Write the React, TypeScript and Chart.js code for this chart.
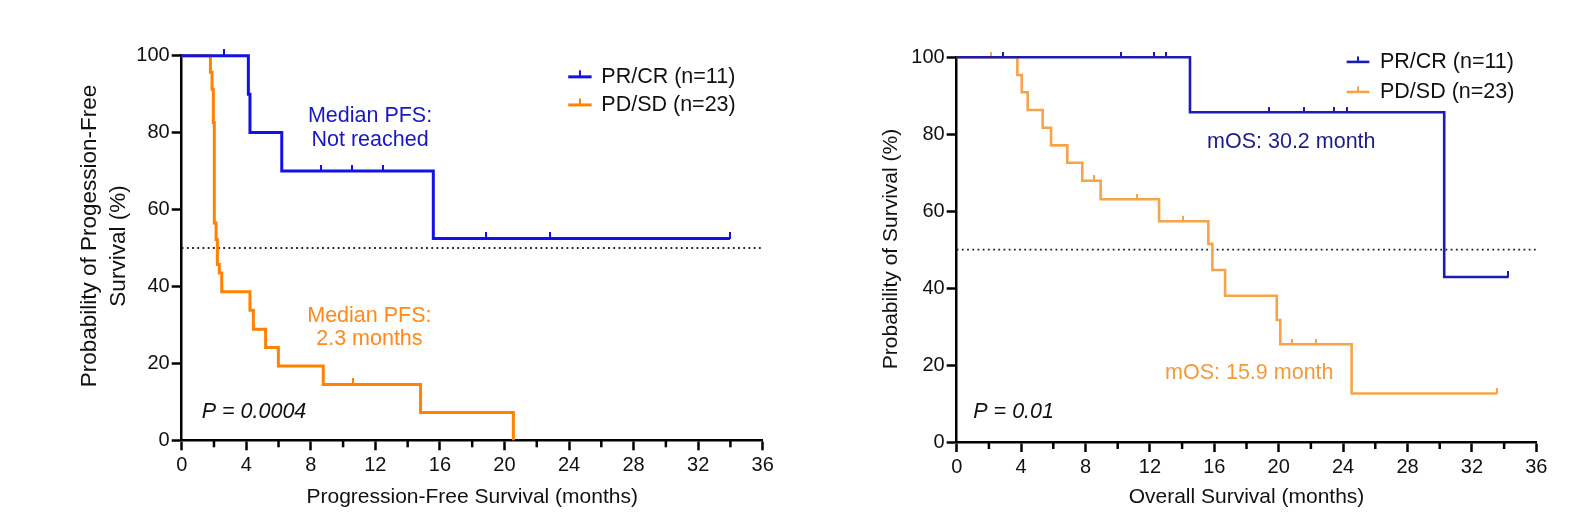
import { useEffect, useRef } from 'react';
import { Chart, registerables } from 'chart.js';

Chart.register(...registerables);

// ---------- Data ----------
const seriesLabels = ['PR/CR (n=11)', 'PD/SD (n=23)'];
const xTickValues = [0, 4, 8, 12, 16, 20, 24, 28, 32, 36];
const xMinorTicks = [2, 6, 10, 14, 18, 22, 26, 30, 34];
const yTickValues = [0, 20, 40, 60, 80, 100];
const medianLine = [50, 50];
const medianLineX = [0, 36];

// Progression-free survival, PR/CR
const pfsRespTimes = [0, 4.13, 4.23, 6.2, 15.59, 33.97];
const pfsRespSurv = [100, 90, 80, 70, 52.5, 52.5];
const pfsRespCensorTimes = [2.64, 8.63, 10.53, 12.49, 18.83, 22.82, 33.97];
const pfsRespCensorSurv = [100, 70, 70, 70, 52.5, 52.5, 52.5];

// Progression-free survival, PD/SD
const pfsNonTimes = [0, 1.78, 1.88, 1.96, 2.02, 2.13, 2.21, 2.33, 2.48, 4.23, 4.44, 5.2, 5.99, 8.77, 14.8, 20.55];
const pfsNonSurv = [100, 95.7, 91.3, 82.6, 56.5, 52.2, 45.7, 43.5, 38.6, 33.8, 28.9, 24.1, 19.3, 14.5, 7.2, 0];
const pfsNonCensorTimes = [10.63];
const pfsNonCensorSurv = [14.5];

// Overall survival, PR/CR
const osRespTimes = [0, 14.49, 30.28, 34.26];
const osRespSurv = [100, 85.7, 42.9, 42.9];
const osRespCensorTimes = [2.86, 10.19, 12.25, 13.0, 19.42, 21.59, 23.43, 24.22, 34.26];
const osRespCensorSurv = [100, 100, 100, 100, 85.7, 85.7, 85.7, 85.7, 42.9];

// Overall survival, PD/SD
const osNonTimes = [0, 3.77, 4.04, 4.41, 5.34, 5.86, 6.87, 7.8, 8.94, 12.57, 15.63, 15.88, 16.67, 19.88, 20.1, 24.53, 33.54];
const osNonSurv = [100, 95.4, 90.9, 86.3, 81.7, 77.1, 72.6, 67.9, 63.1, 57.4, 51.5, 44.7, 38.0, 31.7, 25.4, 12.6, 12.6];
const osNonCensorTimes = [2.11, 8.53, 11.18, 14.08, 20.85, 22.3, 33.54];
const osNonCensorSurv = [100, 67.9, 63.1, 57.4, 25.4, 25.4, 12.6];

// ---------- Helpers ----------
const FONT = '"Liberation Sans", Arial, Helvetica, sans-serif';

const toPts = (xs: number[], ys: number[]) => xs.map((x, i) => ({ x, y: ys[i] }));

function makeTick(color: string, w: number, h: number) {
  const c = document.createElement('canvas');
  c.width = Math.ceil(w);
  c.height = Math.ceil(h * 2);
  const g = c.getContext('2d')!;
  g.fillStyle = color;
  g.fillRect(0, 0, c.width, Math.ceil(h));
  return c;
}

type TextItem = { x: number; y: number; text: string; color: string; align: CanvasTextAlign; italic?: boolean };
type TitleLine = { text: string; size: number; cx: number; cy: number };

type Spec = {
  colors: [string, string];
  lineWidth: number;
  tickH: number;
  series: { times: number[]; surv: number[]; cTimes: number[]; cSurv: number[] }[];
  yTitle: TitleLine[];
  xTitle: string;
  area: { left: number; top: number; right: number; bottom: number };
  texts: TextItem[];
  legend: { x1: number; x2: number; tx: number; rows: number[] };
};

const overlayPlugin = {
  id: 'overlay',
  afterDraw(chart: any, _args: any, opts: any) {
    const { ctx, scales } = chart;
    const x = scales.x;
    const y = scales.y;
    ctx.save();
    // minor ticks
    ctx.strokeStyle = '#000';
    ctx.lineWidth = 2.5;
    for (const v of xMinorTicks) {
      const px = x.getPixelForValue(v);
      ctx.beginPath();
      ctx.moveTo(px, chart.chartArea.bottom);
      ctx.lineTo(px, chart.chartArea.bottom + 7);
      ctx.stroke();
    }
    // y axis title (rotated)
    ctx.fillStyle = '#111';
    ctx.textAlign = 'center';
    ctx.textBaseline = 'middle';
    for (const t of opts.yTitle as TitleLine[]) {
      ctx.save();
      ctx.translate(t.cx, t.cy);
      ctx.rotate(-Math.PI / 2);
      ctx.font = `${t.size}px ${FONT}`;
      ctx.fillText(t.text, 0, 0);
      ctx.restore();
    }
    // annotations
    for (const t of opts.texts as TextItem[]) {
      ctx.font = `${t.italic ? 'italic ' : ''}21.5px ${FONT}`;
      ctx.fillStyle = t.color;
      ctx.textAlign = t.align;
      ctx.textBaseline = 'middle';
      ctx.fillText(t.text, x.getPixelForValue(t.x), y.getPixelForValue(t.y));
    }
    // legend
    const lg = opts.legend;
    const colors = opts.colors as string[];
    seriesLabels.forEach((label, i) => {
      const py = y.getPixelForValue(lg.rows[i]);
      const x1 = x.getPixelForValue(lg.x1);
      const x2 = x.getPixelForValue(lg.x2);
      ctx.strokeStyle = colors[i];
      ctx.lineWidth = opts.lineWidth;
      ctx.beginPath();
      ctx.moveTo(x1, py);
      ctx.lineTo(x2, py);
      ctx.stroke();
      ctx.lineWidth = 2;
      ctx.beginPath();
      ctx.moveTo((x1 + x2) / 2, py);
      ctx.lineTo((x1 + x2) / 2, py - opts.tickH);
      ctx.stroke();
      ctx.font = `21.5px ${FONT}`;
      ctx.fillStyle = '#111';
      ctx.textAlign = 'left';
      ctx.textBaseline = 'middle';
      ctx.fillText(label, x.getPixelForValue(lg.tx), py);
    });
    ctx.restore();
  },
};

function buildConfig(spec: Spec, W: number, H: number): any {
  const datasets: any[] = [];
  spec.series.forEach((s, i) => {
    datasets.push({
      type: 'line',
      data: toPts(s.times, s.surv),
      borderColor: spec.colors[i],
      borderWidth: spec.lineWidth,
      stepped: 'before',
      pointRadius: 0,
      fill: false,
      clip: false,
      order: i,
      borderCapStyle: 'butt',
      borderJoinStyle: 'miter',
    });
    datasets.push({
      type: 'line',
      data: toPts(s.cTimes, s.cSurv),
      showLine: false,
      pointStyle: makeTick(spec.colors[i], 2, spec.tickH),
      pointRadius: 5,
      clip: false,
      order: i,
    });
  });
  datasets.push({
    type: 'line',
    data: toPts(medianLineX, medianLine),
    borderColor: '#222',
    borderWidth: 1.8,
    borderDash: [1.8, 3.4],
    pointRadius: 0,
    clip: false,
    order: 10,
  });

  const a = spec.area;
  return {
    type: 'line',
    data: { datasets },
    plugins: [overlayPlugin],
    options: {
      animation: false,
      responsive: false,
      events: [],
      layout: {
        autoPadding: false,
        padding: { left: 0, top: a.top, right: W - a.right, bottom: 0 },
      },
      plugins: {
        legend: { display: false },
        tooltip: { enabled: false },
        overlay: {
          texts: spec.texts,
          legend: spec.legend,
          colors: spec.colors,
          lineWidth: spec.lineWidth,
          tickH: spec.tickH,
          yTitle: spec.yTitle,
        },
      },
      scales: {
        x: {
          type: 'linear',
          min: 0,
          max: 36,
          afterFit: (s: any) => { s.height = H - a.bottom; },
          afterBuildTicks: (s: any) => { s.ticks = xTickValues.map((v) => ({ value: v })); },
          ticks: { font: { size: 20, family: FONT }, color: '#111', padding: 3, maxRotation: 0, autoSkip: false },
          grid: { display: true, drawOnChartArea: false, drawTicks: true, tickLength: 10, tickWidth: 2.5, tickColor: '#000', color: '#000' },
          border: { display: true, color: '#000', width: 2.5 },
          title: { display: true, text: spec.xTitle, font: { size: 21, family: FONT }, color: '#111', padding: { top: 0, bottom: 18 } },
        },
        y: {
          type: 'linear',
          min: 0,
          max: 100,
          afterFit: (s: any) => { s.width = a.left; },
          afterBuildTicks: (s: any) => { s.ticks = yTickValues.map((v) => ({ value: v })); },
          ticks: { font: { size: 20, family: FONT }, color: '#111', padding: 2 },
          grid: { display: true, drawOnChartArea: false, drawTicks: true, tickLength: 10, tickWidth: 2.5, tickColor: '#000', color: '#000' },
          border: { display: true, color: '#000', width: 2.5 },
          title: { display: false },
        },
      },
    },
  };
}

const W = 797;
const H = 528;

const leftSpec: Spec = {
  colors: ['#1212E6', '#FF8200'],
  lineWidth: 3,
  tickH: 6.5,
  series: [
    { times: pfsRespTimes, surv: pfsRespSurv, cTimes: pfsRespCensorTimes, cSurv: pfsRespCensorSurv },
    { times: pfsNonTimes, surv: pfsNonSurv, cTimes: pfsNonCensorTimes, cSurv: pfsNonCensorSurv },
  ],
  yTitle: [
    { text: 'Probability of Progession-Free', size: 22.5, cx: 90, cy: 236 },
    { text: 'Survival (%)', size: 22.5, cx: 118.5, cy: 246 },
  ],
  xTitle: 'Progression-Free Survival (months)',
  area: { left: 181.7, top: 55.7, right: 762.7, bottom: 440.3 },
  texts: [
    { x: 11.67, y: 84.3, text: 'Median PFS:', color: '#1717C8', align: 'center' },
    { x: 11.67, y: 78.1, text: 'Not reached', color: '#1717C8', align: 'center' },
    { x: 11.63, y: 32.3, text: 'Median PFS:', color: '#FF8A1A', align: 'center' },
    { x: 11.63, y: 26.2, text: '2.3 months', color: '#FF8A1A', align: 'center' },
    { x: 1.24, y: 7.4, text: 'P = 0.0004', color: '#111', align: 'left', italic: true },
  ],
  legend: { x1: 23.95, x2: 25.4, tx: 26.0, rows: [94.5, 87.2] },
};

const rightSpec: Spec = {
  colors: ['#1C1CB0', '#F7A449'],
  lineWidth: 2.6,
  tickH: 5.5,
  series: [
    { times: osRespTimes, surv: osRespSurv, cTimes: osRespCensorTimes, cSurv: osRespCensorSurv },
    { times: osNonTimes, surv: osNonSurv, cTimes: osNonCensorTimes, cSurv: osNonCensorSurv },
  ],
  yTitle: [{ text: 'Probability of Survival (%)', size: 21, cx: 94, cy: 249 }],
  xTitle: 'Overall Survival (months)',
  area: { left: 159.7, top: 57.3, right: 739.3, bottom: 442 },
  texts: [
    { x: 15.55, y: 78.0, text: 'mOS: 30.2 month', color: '#1C1C8E', align: 'left' },
    { x: 12.94, y: 17.8, text: 'mOS: 15.9 month', color: '#F39A3A', align: 'left' },
    { x: 1.03, y: 7.7, text: 'P = 0.01', color: '#111', align: 'left', italic: true },
  ],
  legend: { x1: 24.22, x2: 25.63, tx: 26.29, rows: [98.8, 91.0] },
};

function KMChart({ spec }: { spec: Spec }) {
  const ref = useRef<HTMLCanvasElement>(null);
  useEffect(() => {
    if (!ref.current) return;
    const chart = new Chart(ref.current, buildConfig(spec, W, H));
    return () => chart.destroy();
  }, [spec]);
  return <canvas ref={ref} width={W} height={H} style={{ width: W, height: H, display: 'block' }} />;
}

export default function App() {
  return (
    <div style={{ position: 'fixed', left: 0, top: 0, width: 1594, height: 528, display: 'flex', background: '#fff' }}>
      <KMChart spec={leftSpec} />
      <KMChart spec={rightSpec} />
    </div>
  );
}
